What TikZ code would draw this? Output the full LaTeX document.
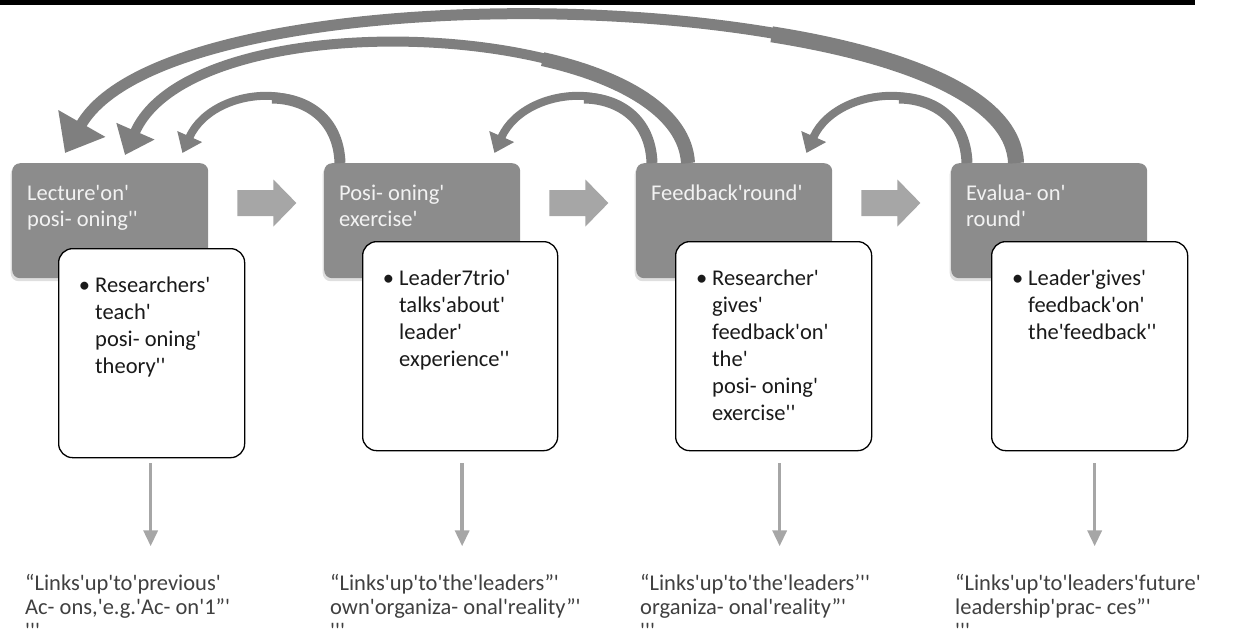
\documentclass[tikz,border=0pt]{standalone}
\usepackage{fontspec}
\newfontfamily\cf{Carlito}
\usetikzlibrary{arrows.meta,shadows}
\definecolor{boxgray}{HTML}{8C8C8C}
\definecolor{arcgray}{HTML}{7F7F7F}
\definecolor{lightarr}{HTML}{A6A6A6}
\definecolor{lbltext}{HTML}{F2F2F2}
\definecolor{bodytext}{HTML}{1A1A1A}
\definecolor{bottext}{HTML}{404040}
\newcommand\txtfont{\cf\fontsize{22.5}{26}\selectfont}
\newcommand\bulfont{\cf\fontsize{22.5}{27}\selectfont}
\newcommand\botfont{\cf\fontsize{22.5}{24}\selectfont}
\newcommand\blockarrow[1]{\fill[lightarr] (#1) ++(-29,-13) -- ++(36,0) -- ++(0,-10.5) -- ++(23,23.5) -- ++(-23,23.5) -- ++(0,-10.5) -- ++(-36,0) -- cycle;}
\begin{document}
\begin{tikzpicture}[x=1pt,y=-1pt,
  gbox/.style={rectangle, rounded corners=8pt, fill=boxgray, inner sep=0pt, anchor=north west,
    minimum width=196pt, minimum height=115pt,
    drop shadow={shadow xshift=-1.5pt, shadow yshift=-3pt, opacity=0.25}},
  wbox/.style={rectangle, rounded corners=14pt, fill=white, draw=black, line width=1.3pt,
    inner sep=0pt, anchor=north west, minimum height=209pt},
  lbl/.style={anchor=north west, inner sep=0pt, align=left, text=lbltext, font=\txtfont},
  bul/.style={anchor=north west, inner sep=0pt, align=left, text=bodytext, font=\bulfont},
  bot/.style={anchor=north west, inner sep=0pt, align=left, text=bottext, font=\botfont},
  darrow/.style={draw=lightarr, line width=3.5pt, -{Triangle[width=14pt,length=16pt]}},
  arcS/.style={draw=arcgray, line width=8pt, -{Triangle[width=26pt,length=18pt]}},
  arcSbase/.style={draw=arcgray, line width=11pt},
  arcM/.style={draw=arcgray, line width=10pt, -{Triangle[width=40pt,length=26pt]}},
  arcMbase/.style={draw=arcgray, line width=14pt},
  arcL/.style={draw=arcgray, line width=11pt, -{Triangle[width=52pt,length=34pt]}},
  arcLbase/.style={draw=arcgray, line width=16pt}
]
\useasboundingbox (0,0) rectangle (1255,641);
\fill[black] (0,0) rectangle (1195,5);

% gray step boxes
\node[gbox] (b1) at (12,163) {};
\node[gbox] (b2) at (324,163) {};
\node[gbox] (b3) at (636,163) {};
\node[gbox] (b4) at (951,163) {};

% labels
\node[lbl] (t1) at ([shift={(15,19)}]b1.north west) {\strut Lecture'on'\\posi- oning''};
\node[lbl] (t2) at ([shift={(15,19)}]b2.north west) {\strut Posi- oning'\\exercise'};
\node[lbl] (t3) at ([shift={(15,19)}]b3.north west) {\strut Feedback'round'};
\node[lbl] (t4) at ([shift={(15,19)}]b4.north west) {\strut Evalua- on'\\round'};

% block arrows between the steps
\coordinate (a12) at ([shift={(58,40)}]b1.north east);
\coordinate (a23) at ([shift={(58,40)}]b2.north east);
\coordinate (a34) at ([shift={(58,40)}]b3.north east);
\blockarrow{a12}
\blockarrow{a23}
\blockarrow{a34}

% white detail boxes
\node[wbox, minimum width=186pt] (w1) at (58,248) {};
\node[wbox, minimum width=195pt] (w2) at (362,241) {};
\node[wbox, minimum width=196pt] (w3) at (675,241) {};
\node[wbox, minimum width=196pt] (w4) at (991,241) {};

\node[bul] (p1) at ([shift={(37,25)}]w1.north west)
  {\strut\llap{•\hspace{5pt}}Researchers'\\teach'\\posi- oning'\\theory''};
\node[bul] (p2) at ([shift={(37,25)}]w2.north west)
  {\strut\llap{•\hspace{5pt}}Leader7trio'\\talks'about'\\leader'\\experience''};
\node[bul] (p3) at ([shift={(37,25)}]w3.north west)
  {\strut\llap{•\hspace{5pt}}Researcher'\\gives'\\feedback'on'\\the'\\posi- oning'\\exercise''};
\node[bul] (p4) at ([shift={(37,25)}]w4.north west)
  {\strut\llap{•\hspace{5pt}}Leader'gives'\\feedback'on'\\the'feedback''};

% bottom texts
\node[bot] (n1) at (25,573.2) {\strut “Links'up'to'previous'\\Ac- ons,'e.g.'Ac- on'1”'\\'''};
\node[bot] (n2) at (330,573.2) {\strut “Links'up'to'the'leaders”'\\own'organiza- onal'reality”'\\'''};
\node[bot] (n3) at (640,573.2) {\strut “Links'up'to'the'leaders’''\\organiza- onal'reality”'\\'''};
\node[bot] (n4) at (955,573.2) {\strut “Links'up'to'leaders'future'\\leadership'prac- ces”'\\'''};

% down arrows
\draw[darrow] ([shift={(-1,5)}]w1.south) -- ++(0,83);
\draw[darrow] ([shift={(2,12)}]w2.south) -- ++(0,83);
\draw[darrow] ([shift={(6,12)}]w3.south) -- ++(0,83);
\draw[darrow] ([shift={(5,12)}]w4.south) -- ++(0,83);

% feedback arcs: thicker near their start
\draw[arcSbase] ([xshift=16pt]b2.north west) .. controls +(-1.5,-44) and +(35,0.5) .. ++(-68,-65);
\draw[arcSbase] ([xshift=16pt]b3.north west) .. controls +(-1.5,-44) and +(35,0.5) .. ++(-68,-65);
\draw[arcSbase] ([xshift=16pt]b4.north west) .. controls +(-1.5,-44) and +(35,0.5) .. ++(-68,-65);
\draw[arcMbase] ([xshift=52pt]b3.north west) .. controls +(-2.8,-50) and +(81.4,18.3) .. ++(-145.4,-103.9);
\draw[arcLbase] ([xshift=65pt]b4.north west) .. controls +(-2.1,-63.7) and +(138.6,22) .. ++(-244.3,-128.7);

\draw[arcS] ([xshift=16pt]b2.north west) .. controls +(-3,-88) and +(32,-72) .. ([shift={(-26,-10)}]b1.north east);
\draw[arcS] ([xshift=16pt]b3.north west) .. controls +(-3,-88) and +(32,-72) .. ([shift={(-26,-10)}]b2.north east);
\draw[arcS] ([xshift=16pt]b4.north west) .. controls +(-3,-88) and +(32,-72) .. ([shift={(-26,-10)}]b3.north east);
\draw[arcM] ([xshift=52pt]b3.north west) .. controls +(-8,-143) and +(70,-160) .. ([shift={(113,-8)}]b1.north west);
\draw[arcL] ([xshift=65pt]b4.north west) .. controls +(-6,-180) and +(110,-193) .. ([shift={(53,-10)}]b1.north west);
\end{tikzpicture}
\end{document}
